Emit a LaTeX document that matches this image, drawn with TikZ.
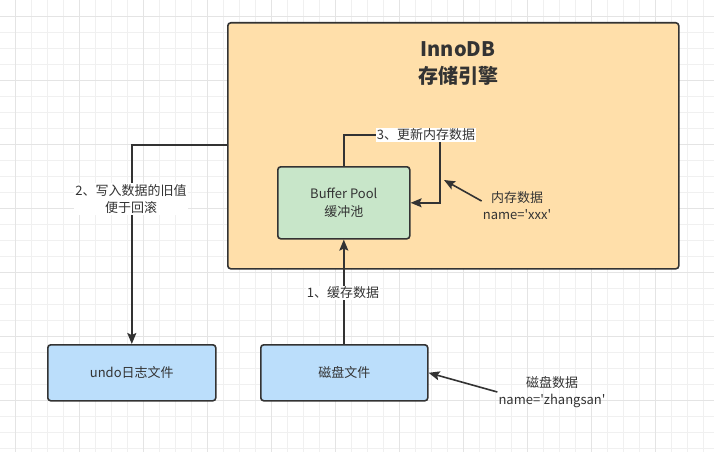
\documentclass[tikz,border=0pt]{standalone}
\usepackage{fontspec}
\setmainfont{Noto Sans CJK SC}
\newfontfamily\cjkfont{Noto Sans CJK SC}
\usepackage{xcolor}
\usetikzlibrary{positioning,arrows.meta}

\definecolor{gridminor}{HTML}{F0F0F0}
\definecolor{gridmajor}{HTML}{E4E4E4}
\definecolor{enginefill}{HTML}{FFDFAA}
\definecolor{poolfill}{HTML}{C8E6C9}
\definecolor{filefill}{HTML}{BBDEFB}
\definecolor{ink}{HTML}{333333}

\tikzset{
  box/.style={draw=ink, line width=1.6pt, rounded corners=3pt, align=center,
    text=ink, font=\cjkfont\fontsize{13}{18}\selectfont, anchor=north west},
  arr/.style={draw=ink, line width=1.6pt, -{Stealth[length=11pt,width=9pt,inset=2pt]}},
  lbl/.style={fill=white, text=ink, align=center, inner sep=1pt,
    font=\cjkfont\fontsize{13}{17}\selectfont},
  note/.style={text=ink, align=center, inner sep=1pt,
    font=\cjkfont\fontsize{13}{17}\selectfont},
}

\begin{document}
\begin{tikzpicture}[x=1pt, y=-1pt]
    \useasboundingbox (0,0) rectangle (714,452);
    % background grid
    \foreach \g in {15,31,...,714} \draw[gridminor, line width=0.8pt] (\g,0) -- (\g,452);
    \foreach \g in {16,32,...,452} \draw[gridminor, line width=0.8pt] (0,\g) -- (714,\g);
    \foreach \g in {15,79,...,714} \draw[gridmajor, line width=0.8pt] (\g,0) -- (\g,452);
    \foreach \g in {16,80,...,452} \draw[gridmajor, line width=0.8pt] (0,\g) -- (714,\g);

    \node (innodb) [box, fill=enginefill, minimum width=451pt, minimum height=246pt] at (227,22) {};
    \node (title) [text=ink, align=center, font=\cjkfont\fontsize{20}{27}\selectfont\bfseries] at (458,64) {InnoDB\\存储引擎};

    \node (pool) [box, fill=poolfill, minimum width=132pt, minimum height=72pt] at (277,166) {Buffer Pool\\缓冲池};

    \node (undo) [box, fill=filefill, minimum width=168pt, minimum height=56pt] at (47,344) {undo日志文件};
    \node (disk) [box, fill=filefill, minimum width=167pt, minimum height=56pt] at (260,344) {磁盘文件};

    \node (memnote) [note] at (517,206) {内存数据\\name='xxx'};
    \node (disknote) [note] at (552,392) {磁盘数据\\name='zhangsan'};

    \coordinate (turn) at (440,135);
    \coordinate (undoout) at (227,145);
    \coordinate (memtip) at (444,180);

    % 1 disk -> pool
    \draw[arr] (disk.north -| pool.south) -- (pool.south);
    \node [lbl] at (343,293) {1、缓存数据};

    % 2 innodb -> undo
    \draw[arr] (undoout) -| (undo.north);
    \node [lbl] at (131,199) {2、写入数据的旧值\\便于回滚};

    % 3 pool -> pool
    \draw[arr] (pool.north) |- (turn) |- (pool.east);
    \node [lbl] at (426,135) {3、更新内存数据};

    \draw[arr] (memnote.172) -- (memtip);
    \draw[arr] (disknote.west) -- (disk.east);
\end{tikzpicture}
\end{document}
